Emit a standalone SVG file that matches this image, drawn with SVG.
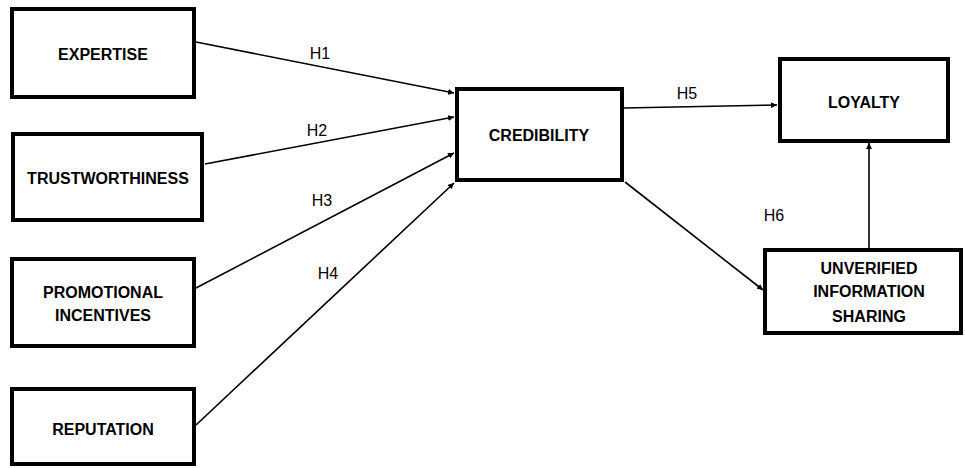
<svg xmlns="http://www.w3.org/2000/svg" width="965" height="468" viewBox="0 0 965 468">
<style>
.box{fill:#fff;stroke:#000;stroke-width:4}
.lbl{font-family:"Liberation Sans",Arial,sans-serif;font-weight:bold;font-size:16px;text-anchor:middle;fill:#000}
.h{font-family:"Liberation Sans",Arial,sans-serif;font-size:16px;text-anchor:middle;fill:#000}
.c{stroke:#000;stroke-width:1.6;fill:none;marker-end:url(#ah)}
</style>
<defs>
<marker id="ah" viewBox="0 0 10 10" refX="10" refY="5" markerWidth="6" markerHeight="6" markerUnits="userSpaceOnUse" orient="auto">
<path d="M0,0 L10,5 L0,10 z" fill="#000"/>
</marker>
</defs>
<rect width="965" height="468" fill="#fff"/>
<g id="connectors">
<line class="c" x1="196" y1="42" x2="454" y2="93"/>
<line class="c" x1="205" y1="164" x2="454" y2="117"/>
<line class="c" x1="196" y1="288" x2="454" y2="153"/>
<line class="c" x1="196" y1="425" x2="454" y2="183"/>
<line class="c" x1="624" y1="108" x2="777" y2="105"/>
<line class="c" x1="625" y1="182" x2="763" y2="290"/>
<line class="c" x1="869" y1="248" x2="869" y2="143"/>
<text class="h" x="320" y="59">H1</text>
<text class="h" x="317" y="136">H2</text>
<text class="h" x="322" y="206">H3</text>
<text class="h" x="328" y="279">H4</text>
<text class="h" x="687" y="99">H5</text>
<text class="h" x="774" y="221">H6</text>
</g>
<g id="expertise">
<rect class="box" x="12" y="9" width="182" height="88"/>
<text class="lbl" x="103" y="60">EXPERTISE</text>
</g>
<g id="trustworthiness">
<rect class="box" x="13" y="134" width="189" height="86"/>
<text class="lbl" x="108" y="184">TRUSTWORTHINESS</text>
</g>
<g id="promotional">
<rect class="box" x="12" y="259" width="182" height="87"/>
<text class="lbl" x="103" y="298">PROMOTIONAL</text>
<text class="lbl" x="103" y="321">INCENTIVES</text>
</g>
<g id="reputation">
<rect class="box" x="12" y="389" width="182" height="75"/>
<text class="lbl" x="103" y="435">REPUTATION</text>
</g>
<g id="credibility">
<rect class="box" x="457" y="89" width="165" height="91"/>
<text class="lbl" x="539" y="141">CREDIBILITY</text>
</g>
<g id="loyalty">
<rect class="box" x="780" y="59" width="168" height="82"/>
<text class="lbl" x="864" y="108">LOYALTY</text>
</g>
<g id="unverified">
<rect class="box" x="765" y="250" width="196" height="83"/>
<text class="lbl" x="869" y="274">UNVERIFIED</text>
<text class="lbl" x="869" y="297">INFORMATION</text>
<text class="lbl" x="869" y="322">SHARING</text>
</g>
</svg>
